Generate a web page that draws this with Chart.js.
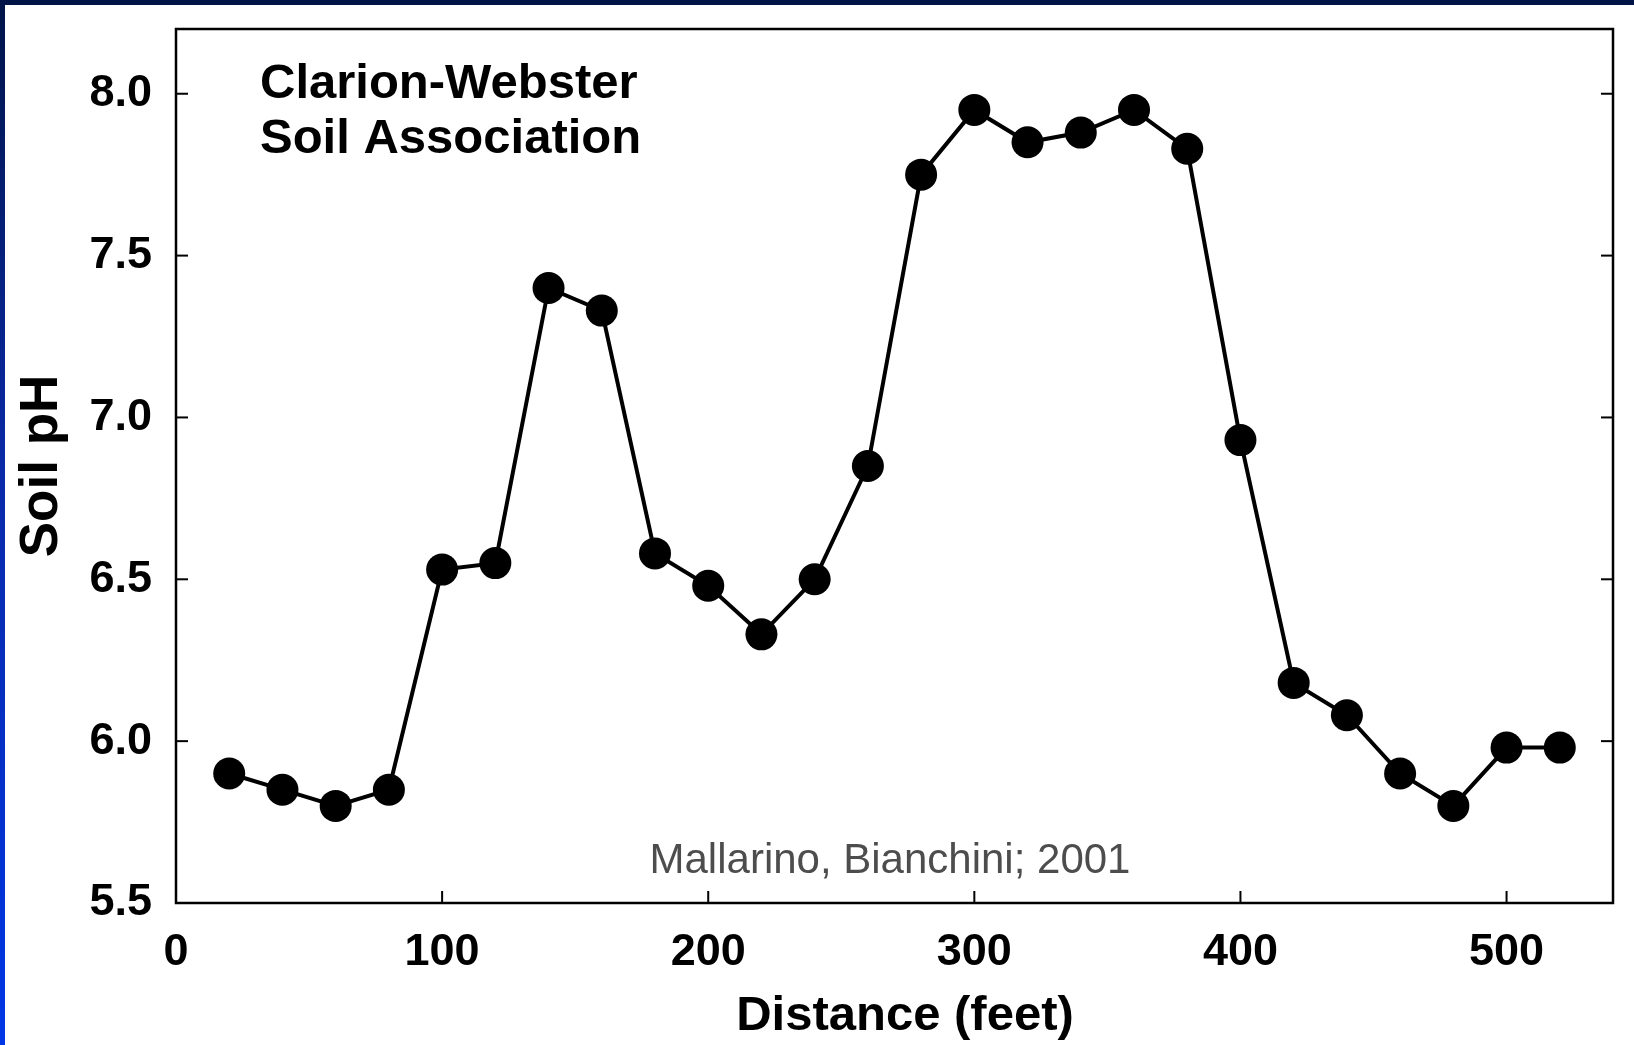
<!DOCTYPE html>
<html>
<head>
<meta charset="utf-8">
<script src="https://cdn.jsdelivr.net/npm/chart.js@4.4.1/dist/chart.umd.min.js"></script>
<style>
  body { margin: 0; background: #ffffff; }
  #wrap { position: relative; width: 1634px; height: 1045px; overflow: hidden; }
  #topBand { position: absolute; left: 0; top: 0; width: 1634px; height: 5px; background: #001448; }
  #leftBand { position: absolute; left: 0; top: 0; width: 5px; height: 1045px;
    background: linear-gradient(to bottom, #001448 0%, #0a2aa8 45%, #0036e6 100%); }
</style>
</head>
<body>
<div id="wrap">
  <canvas id="phChart" width="1634" height="1045"></canvas>
  <div id="topBand"></div>
  <div id="leftBand"></div>
</div>
<script>
const ctx = document.getElementById('phChart');

// distance along transect (feet) and measured soil pH
const distanceFeet = [20, 40, 60, 80, 100, 120, 140, 160, 180, 200, 220, 240, 260,
                      280, 300, 320, 340, 360, 380, 400, 420, 440, 460, 480, 500, 520]
const soilPH = [5.90, 5.85, 5.80, 5.85, 6.53, 6.55, 7.40, 7.33, 6.58, 6.48, 6.33, 6.50, 6.85,
                7.75, 7.95, 7.85, 7.88, 7.95, 7.83, 6.93, 6.18, 6.08, 5.90, 5.80, 5.98, 5.98]

const titleLines = ["Clarion-Webster", "Soil Association"]
const citation = "Mallarino, Bianchini; 2001"
const xTitle = "Distance (feet)"

const points = distanceFeet.map((d, i) => {return {x: d, y: soilPH[i]}})

// frame box + inward ticks + text annotations
const framePlugin = {
    id: 'frame',
    afterDraw(chart) {
        const c = chart.ctx
        const area = chart.chartArea
        const xs = chart.scales.x
        const ys = chart.scales.y
        c.save()
        c.strokeStyle = '#000'
        c.lineWidth = 2
        xs.ticks.forEach(t => {
            const px = xs.getPixelForValue(t.value)
            c.beginPath(); c.moveTo(px, area.bottom); c.lineTo(px, area.bottom - 12); c.stroke()
        })
        ys.ticks.forEach(t => {
            const py = ys.getPixelForValue(t.value)
            c.beginPath(); c.moveTo(area.left, py); c.lineTo(area.left + 12, py); c.stroke()
            c.beginPath(); c.moveTo(area.right, py); c.lineTo(area.right - 12, py); c.stroke()
        })
        c.lineWidth = 2.5
        c.strokeRect(area.left, area.top, area.right - area.left, area.bottom - area.top)

        c.fillStyle = '#000'
        c.font = 'bold 49px "Liberation Sans", Arial, sans-serif'
        c.textAlign = 'left'
        c.textBaseline = 'alphabetic'
        c.fillText(titleLines[0], area.left + 84, area.top + 69)
        c.fillText(titleLines[1], area.left + 84, area.top + 124)

        c.textAlign = 'center'
        c.textBaseline = 'middle'
        c.fillText(xTitle, 905, 1016)

        c.fillStyle = '#4d4d4d'
        c.font = '42px "Liberation Sans", Arial, sans-serif'
        c.textBaseline = 'alphabetic'
        c.fillText(citation, 890, 873)
        c.restore()
    }
}

new Chart(ctx, {
    type: 'line',
    data: {
        datasets: [{
            data: points,
            borderColor: '#000',
            backgroundColor: '#000',
            borderWidth: 4,
            pointRadius: 16,
            pointHoverRadius: 16,
            pointBackgroundColor: '#000',
            pointBorderWidth: 0,
            tension: 0
        }]
    },
    options: {
        responsive: false,
        animation: false,
        layout: { padding: { top: 29, right: 21, left: 0, bottom: 0 } },
        plugins: {
            legend: { display: false },
            tooltip: { enabled: false }
        },
        scales: {
            x: {
                type: 'linear',
                min: 0,
                max: 540,
                grid: { display: false, drawTicks: false },
                border: { display: false },
                ticks: {
                    stepSize: 100,
                    includeBounds: false,
                    color: '#000',
                    padding: 27,
                    maxRotation: 0,
                    font: { family: '"Liberation Sans", Arial, sans-serif', size: 45, weight: 'bold', lineHeight: 1 }
                },
                afterFit(scale) { scale.height = 142 }
            },
            y: {
                min: 5.5,
                max: 8.2,
                grid: { display: false, drawTicks: false },
                border: { display: false },
                ticks: {
                    stepSize: 0.5,
                    includeBounds: false,
                    color: '#000',
                    padding: 24,
                    callback: v => v.toFixed(1),
                    font: { family: '"Liberation Sans", Arial, sans-serif', size: 45, weight: 'bold', lineHeight: 1 }
                },
                title: {
                    display: true,
                    text: 'Soil pH',
                    color: '#000',
                    padding: { top: 16, bottom: 0 },
                    font: { family: '"Liberation Sans", Arial, sans-serif', size: 53, weight: 'bold', lineHeight: 1 }
                },
                afterFit(scale) {
                    scale.width = 176
                    scale.paddingTop = 0
                    scale.paddingBottom = 0
                }
            }
        }
    },
    plugins: [framePlugin]
});
</script>
</body>
</html>
